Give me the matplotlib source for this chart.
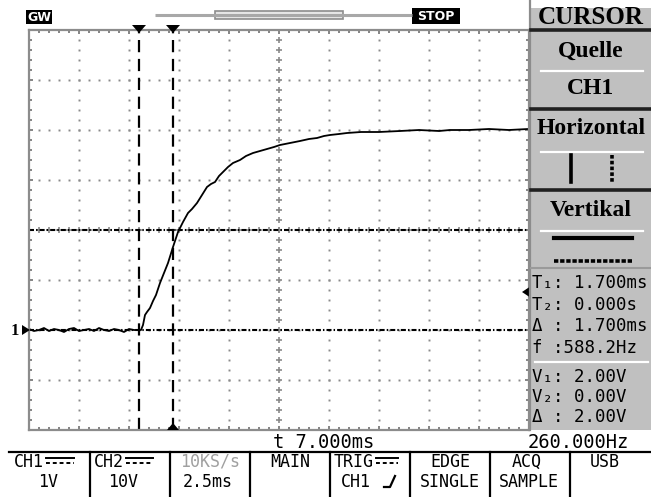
import matplotlib
matplotlib.use("Agg")
import matplotlib.pyplot as plt
from matplotlib.patches import Rectangle, Polygon
from matplotlib.ticker import MultipleLocator

# --- data (time in ms, CH1 in volts) ---
t_ms = [0.00, 0.25, 0.50, 0.75, 1.00, 1.25, 1.50, 1.75, 2.00, 2.25, 2.50, 2.75,
        3.00, 3.25, 3.50, 3.75, 4.00, 4.25, 4.50, 4.75, 5.00, 5.25, 5.50,
        5.60, 5.70, 5.80, 5.90, 6.05, 6.20, 6.35, 6.55, 6.75, 6.95, 7.20, 7.45,
        7.70, 7.95, 8.15, 8.40, 8.65, 8.90, 9.10, 9.30, 9.50, 9.70, 9.95, 10.20,
        10.55, 10.85, 11.20, 11.55, 11.90, 12.25, 12.55, 13.05, 13.55, 14.00,
        14.40, 14.75, 15.05, 15.50, 15.90, 16.60, 17.50, 18.55, 19.50, 20.50,
        21.05, 22.00, 23.00, 24.00, 24.95]
ch1_v = [0.02, -0.02, 0.00, 0.04, -0.02, 0.02, 0.00, -0.04, 0.02, 0.04, -0.02, 0.00,
         0.02, -0.02, 0.04, 0.00, -0.02, 0.02, 0.00, -0.04, 0.02, 0.00, 0.00,
         0.00, 0.10, 0.30, 0.36, 0.44, 0.58, 0.70, 0.94, 1.14, 1.34, 1.66, 1.96,
         2.16, 2.34, 2.42, 2.54, 2.70, 2.86, 2.92, 2.96, 3.08, 3.16, 3.26, 3.34,
         3.40, 3.48, 3.54, 3.58, 3.62, 3.66, 3.70, 3.74, 3.78, 3.82,
         3.84, 3.88, 3.90, 3.92, 3.94, 3.96, 3.96, 3.98, 4.00, 3.98,
         4.00, 4.00, 4.02, 4.00, 4.02]

cursor_t = [5.5, 7.2]      # vertical cursors (ms)
cursor_v = [0.0, 2.0]      # horizontal cursors (V)
trig_level = 0.76          # trigger level marker (V)
t_div, v_div = 2.5, 1.0    # 2.5 ms/div, 1 V/div
n_hdiv, n_vdiv = 10, 8
v_bottom = -2.0

readout_t = ["T\u2081: 1.700ms", "T\u2082: 0.000s", "\u0394 : 1.700ms", "f :588.2Hz"]
readout_v = ["V\u2081: 2.00V", "V\u2082: 0.00V", "\u0394 : 2.00V"]
menu_top = ["CH1", "CH2", "10KS/s", "MAIN", "TRIG", "EDGE", "ACQ", "USB"]
menu_bot = ["1V", "10V", "2.5ms", "", "CH1", "SINGLE", "SAMPLE", ""]

W, H = 651, 497
fig = plt.figure(figsize=(W / 100, H / 100), dpi=100)
fig.patch.set_facecolor("white")

# scope graticule: x 29..529 px, y 30..430 px
ax = fig.add_axes([29 / W, (H - 430) / H, 500 / W, 400 / H])
t_max = n_hdiv * t_div
v_top = v_bottom + n_vdiv * v_div
ax.set_xlim(0, t_max)
ax.set_ylim(v_bottom, v_top)
ax.set_facecolor("white")
for s in ax.spines.values():
    s.set_color("#8c8c8c")
    s.set_linewidth(1.6)
ax.xaxis.set_major_locator(MultipleLocator(t_div))
ax.xaxis.set_minor_locator(MultipleLocator(t_div / 5))
ax.yaxis.set_major_locator(MultipleLocator(v_div))
ax.yaxis.set_minor_locator(MultipleLocator(v_div / 5))
ax.tick_params(which="both", direction="in", top=True, right=True,
               labelbottom=False, labelleft=False, color="#707070")
ax.tick_params(which="major", length=3, width=1.2)
ax.tick_params(which="minor", length=2.2, width=1.2)

# dotted grid, crosses on the centre lines
dot_kw = dict(ls="none", marker="s", ms=1.4, mfc="#8a8a8a", mec="none")
ys_dots = [v_bottom + k * v_div / 5 for k in range(1, n_vdiv * 5)]
xs_dots = [k * t_div / 5 for k in range(1, n_hdiv * 5)]
for i in range(1, n_hdiv):
    x = i * t_div
    if i == n_hdiv // 2:
        ax.plot([x] * len(ys_dots), ys_dots, ls="none", marker="+", ms=4,
                mew=1.2, color="#8a8a8a")
    else:
        ax.plot([x] * len(ys_dots), ys_dots, **dot_kw)
for j in range(1, n_vdiv):
    y = v_bottom + j * v_div
    if j == n_vdiv // 2:
        ax.plot(xs_dots, [y] * len(xs_dots), ls="none", marker="+", ms=4,
                mew=1.2, color="#8a8a8a")
    else:
        ax.plot(xs_dots, [y] * len(xs_dots), **dot_kw)

# cursors
for ct in cursor_t:
    ax.axvline(ct, color="black", lw=1.6, ls=(0, (5.5, 3.0)))
for cv in cursor_v:
    ax.axhline(cv, color="black", lw=1.5, ls=(0, (2.4, 1.0, 0.7, 1.0)))

# CH1 trace
ax.plot(t_ms, ch1_v, color="black", lw=1.3)

# ---------- overlay in pixel coordinates ----------
ov = fig.add_axes([0, 0, 1, 1])
ov.set_xlim(0, W)
ov.set_ylim(H, 0)
ov.axis("off")

mono = ["DejaVu Sans Mono", "DejaVu Sans"]

def px(x_t):
    return 29 + x_t / t_max * 500

def py(v):
    return 430 - (v - v_bottom) / (v_top - v_bottom) * 400

# top status bar
ov.add_patch(Rectangle((26, 10), 26, 14, fc="black", ec="none"))
ov.text(39, 17.5, "GW", color="white", fontsize=9, fontweight="bold",
        ha="center", va="center", family="DejaVu Sans")
ov.plot([155, 412], [15, 15], color="#a8a8a8", lw=2.2, solid_capstyle="butt")
ov.add_patch(Rectangle((215, 11), 128, 8, fc="#e6e6e6", ec="#8c8c8c", lw=1.2))
ov.add_patch(Rectangle((412, 8), 48, 16, fc="black", ec="none"))
ov.text(436, 16.5, "STOP", color="white", fontsize=9, fontweight="bold",
        ha="center", va="center", family="DejaVu Sans")

# cursor / trigger markers
for ct in cursor_t:
    x = px(ct)
    ov.add_patch(Polygon([(x - 7, 25), (x + 7, 25), (x, 33)], fc="black", ec="none"))
xb = px(cursor_t[1])
ov.add_patch(Polygon([(xb - 6, 430), (xb + 6, 430), (xb, 423)], fc="black", ec="none"))
y0 = py(0.0)
ov.add_patch(Polygon([(22, y0 - 5), (22, y0 + 5), (30, y0)], fc="black", ec="none"))
ov.text(15, y0 + 1, "1", fontsize=12, fontweight="bold", family="Liberation Serif",
        ha="center", va="center")
yt = py(trig_level)
ov.add_patch(Polygon([(531, yt - 6), (531, yt + 6), (522, yt)], fc="black", ec="none"))

# right-hand menu panel
ov.add_patch(Rectangle((531, 8), 120, 422, fc="#c0c0c0", ec="none"))
ov.plot([530, 530], [0, 430], color="#8c8c8c", lw=1.6)
for ysep in [30, 109, 190]:
    ov.plot([531, 651], [ysep, ysep], color="#202020", lw=2.6)
ov.plot([531, 651], [268, 268], color="#9a9a9a", lw=1.5)
for yw in [71, 152, 231]:
    ov.plot([541, 643], [yw, yw], color="white", lw=1.6)
ov.plot([535, 648], [362, 362], color="white", lw=1.6)

serif = dict(family="Liberation Serif", fontweight="bold", ha="center", va="center")
ov.text(591, 18, "CURSOR", fontsize=18, **serif)
ov.text(591, 51, "Quelle", fontsize=17, **serif)
ov.text(591, 89, "CH1", fontsize=17, **serif)
ov.text(591, 128, "Horizontal", fontsize=17, **serif)
ov.text(591, 210, "Vertikal", fontsize=17, **serif)
ov.plot([571, 571], [155, 182], color="black", lw=2.6)
ov.plot([612, 612], [155, 182], color="black", lw=2.6, ls=(0, (1.0, 0.6)))
ov.plot([554, 632], [238, 238], color="black", lw=3)
ov.plot([554, 632], [261, 261], color="black", lw=2.6, ls=(0, (1.2, 0.5)))

for k, s in enumerate(readout_t):
    ov.text(532, 283 + k * 21.7, s, fontsize=12.5, family=mono, va="center")
for k, s in enumerate(readout_v):
    ov.text(532, 377 + k * 20, s, fontsize=12.5, family=mono, va="center")

# bottom readouts
ov.text(273, 442, "t 7.000ms", fontsize=13.5, family=mono, va="center")
ov.text(528, 442, "260.000Hz", fontsize=13.5, family=mono, va="center")

# bottom menu bar
ov.plot([9, 651], [452, 452], color="black", lw=1.6)
for k in range(1, 8):
    xs = 10 + 80 * k
    ov.plot([xs, xs], [452, 497], color="black", lw=1.6)
row1, row2 = 462, 482
cell_kw = dict(fontsize=12, family=mono, va="center")
ov.text(14, row1, menu_top[0], ha="left", **cell_kw)
ov.text(94, row1, menu_top[1], ha="left", **cell_kw)
ov.text(210, row1, menu_top[2], ha="center", color="#a0a0a0", **cell_kw)
ov.text(290, row1, menu_top[3], ha="center", **cell_kw)
ov.text(334, row1, menu_top[4], ha="left", **cell_kw)
ov.text(450, row1, menu_top[5], ha="center", **cell_kw)
ov.text(527, row1, menu_top[6], ha="center", **cell_kw)
ov.text(605, row1, menu_top[7], ha="center", **cell_kw)
ov.text(48, row2, menu_bot[0], ha="center", **cell_kw)
ov.text(123, row2, menu_bot[1], ha="center", **cell_kw)
ov.text(208, row2, menu_bot[2], ha="center", **cell_kw)
ov.text(341, row2, menu_bot[4], ha="left", **cell_kw)
ov.text(450, row2, menu_bot[5], ha="center", **cell_kw)
ov.text(529, row2, menu_bot[6], ha="center", **cell_kw)

# DC coupling symbols and rising-edge symbol
for x0, x1 in [(46, 74), (126, 153), (376, 398)]:
    ov.plot([x0, x1], [458, 458], color="black", lw=1.4)
    ov.plot([x0, x1], [463, 463], color="black", lw=1.4, ls=(0, (2, 1.5)))
ov.plot([384, 390, 395], [487, 487, 476], color="black", lw=1.6)

fig.savefig("out.png", dpi=100)
